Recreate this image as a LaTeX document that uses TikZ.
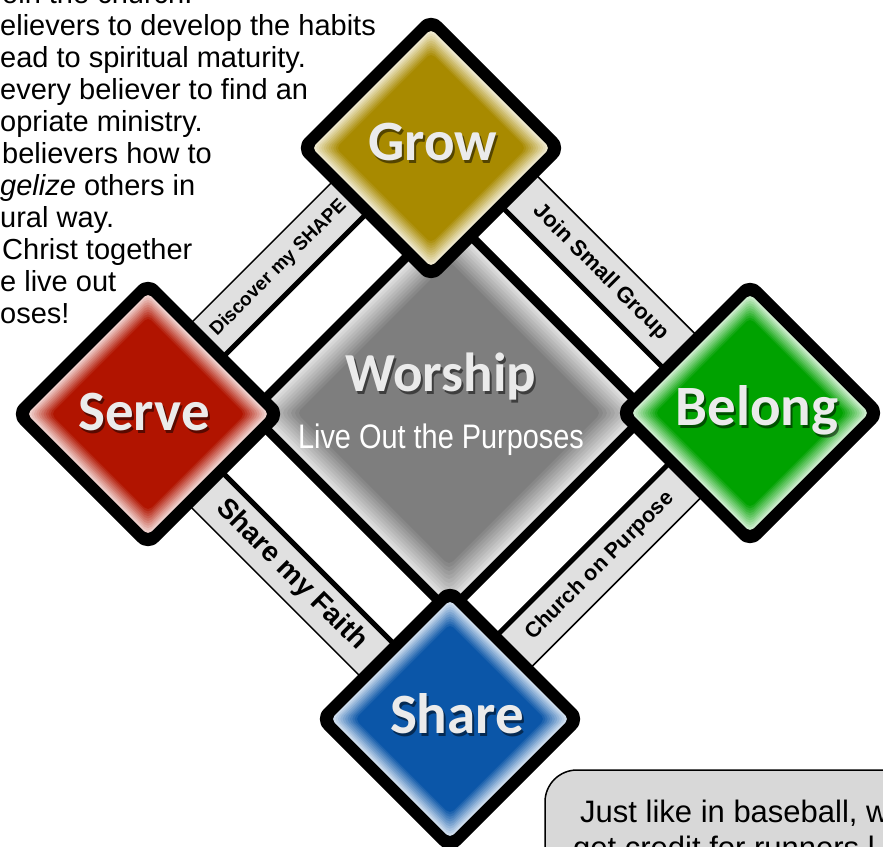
\documentclass[tikz,border=0pt]{standalone}
\usepackage{fontspec}
\usepackage{graphicx}
\setmainfont{Liberation Sans}
\newfontfamily\lblfont{Carlito}
\definecolor{growc}{HTML}{A88A00}
\definecolor{servec}{HTML}{B11400}
\definecolor{belongc}{HTML}{00A200}
\definecolor{sharec}{HTML}{0B56A8}
\definecolor{worshipc}{HTML}{7E7E7E}
\definecolor{barc}{HTML}{E0E0E0}
\definecolor{boxc}{HTML}{D8D8D8}
\newcommand\diam[4]{%
  \path[#4] ({#1-#3},{#2}) -- ({#1},{#2-#3}) -- ({#1+#3},{#2}) -- ({#1},{#2+#3}) -- cycle;}
\newcommand\glowdiam[7]{%
  \diam{#1}{#2}{#3}{fill=black, rounded corners=14pt}%
  \foreach \k in {0,...,10}{%
    \pgfmathsetmacro\rr{#4-#7*\k/10}%
    \pgfmathtruncatemacro\pc{#6+(100-#6)*\k/10}%
    \diam{#1}{#2}{\rr}{fill=#5!\pc!white, rounded corners=5pt}%
  }}
\tikzset{
  para/.style={anchor=base west, inner sep=0pt, font=\fontsize{29}{32}\selectfont},
  dlabel/.style={anchor=base, inner sep=0pt, text=white!92!black},
  dshadow/.style={dlabel, text=black, opacity=0.5},
  bar/.style={draw=black, line width=1.5pt, fill=barc, minimum width=280pt, minimum height=46pt, inner sep=0pt, font=\bfseries\fontsize{#1}{#1}\selectfont},
  inner/.style={line width=5pt, black},
  boxtext/.style={anchor=base west, inner sep=0pt, font=\fontsize{31}{35}\selectfont},
}
\newcommand\shlabel[5]{%
  \node[dshadow, font=\lblfont\bfseries\fontsize{#5}{#5}\selectfont] (#1-sh) at ({#2+2},{#3+3}) {#4};
  \node[dlabel, font=\lblfont\bfseries\fontsize{#5}{#5}\selectfont] (#1) at (#2,#3) {#4};}
\begin{document}
\begin{tikzpicture}[x=1pt,y=-1pt]
\useasboundingbox (0,0) rectangle (883,846);
\clip (0,0) rectangle (883,846);
\fill[white] (0,0) rectangle (883,846);

% paragraph at top left
\node[para] (t0) at (2,3) {oin the church.};
\node[para] (t1) at (0,35) {elievers to develop the habits};
\node[para] (t2) at (0,67) {ead to spiritual maturity.};
\node[para] (t3) at (0,99) {every believer to find an};
\node[para] (t4) at (0,131) {opriate ministry.};
\node[para] (t5) at (2,163) {believers how to};
\node[para] (t6) at (0,195) {\textit{gelize} others in};
\node[para] (t7) at (0,227) {ural way.};
\node[para] (t8) at (2,259) {Christ together};
\node[para] (t9) at (0,291) {e live out};
\node[para] (t10) at (0,323) {oses!};

% central worship diamond
\glowdiam{449}{413}{205}{192}{worshipc}{25}{40}

% bars
\node[bar=19, rotate=45] (ul) at (278.6,268) {Discover my SHAPE};
\draw[inner] (ul.south west) -- (ul.south east);
\node[bar=22, rotate=-45] (ur) at (601,272.3) {Join Small Group};
\draw[inner] (ur.south west) -- (ur.south east);
\node[bar=28, rotate=-45] (ll) at (291.3,574.9) {Share my Faith};
\draw[inner] (ll.north west) -- (ll.north east);
\node[bar=21.5, rotate=45] (lr) at (600,566) {Church on Purpose};
\draw[inner] (lr.north west) -- (lr.north east);

% coloured diamonds
\glowdiam{431}{148}{136}{119}{growc}{20}{24}
\glowdiam{148}{414}{138}{121}{servec}{20}{24}
\glowdiam{750}{413}{136}{119}{belongc}{20}{24}
\glowdiam{450}{719}{136}{119}{sharec}{20}{24}

% labels
\shlabel{grow}{433}{160}{Grow}{57}
\shlabel{serve}{144}{430}{Serve}{57}
\shlabel{belong}{757}{425}{Belong}{57}
\shlabel{share}{457}{733}{Share}{57}
\shlabel{worship}{441}{391}{Worship}{55}
\node[anchor=base, inner sep=0pt, text=white, font=\fontsize{34}{36}\selectfont] (live) at (441,448) {\scalebox{0.85}[1]{Live Out the Purposes}};

% note box
\draw[fill=boxc, line width=1.5pt, rounded corners=32pt] (545,770) rectangle (930,930);
\node[boxtext] (b1) at (580,822) {Just like in baseball, w};
\node[boxtext] (b2) at (573,858) {get credit for runners l};
\end{tikzpicture}
\end{document}
